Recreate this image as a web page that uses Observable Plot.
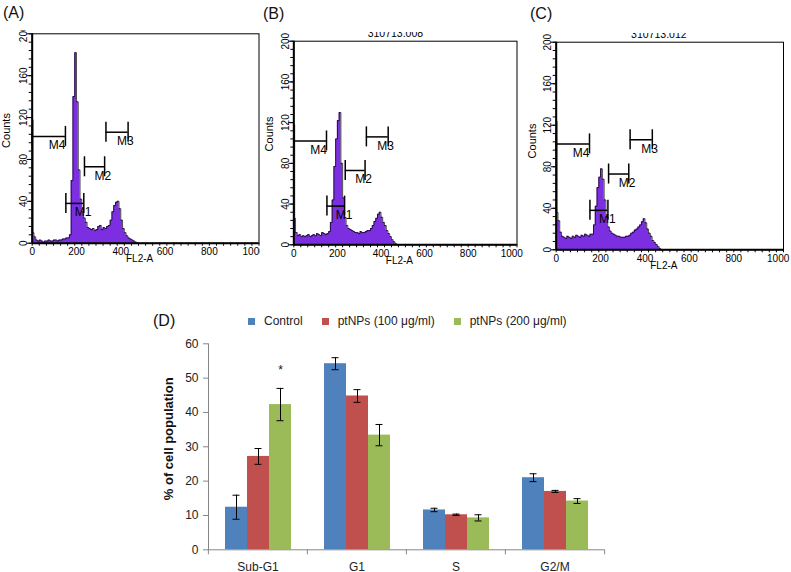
<!DOCTYPE html>
<html><head><meta charset="utf-8">
<script src="https://cdn.jsdelivr.net/npm/d3@7"></script>
<script src="https://cdn.jsdelivr.net/npm/@observablehq/plot@0.6"></script>
<style>
body{margin:0;background:#fff;font-family:"Liberation Sans",Arial,Helvetica,sans-serif;}
#root{position:relative;width:791px;height:572px;overflow:hidden;background:#fff;}
.panel{position:absolute;overflow:hidden;}
.tag{position:absolute;font-size:16px;line-height:16px;color:#111;}
.legend{position:absolute;display:flex;align-items:center;font-size:12px;line-height:12px;color:#222;white-space:nowrap;}
.legend .sw{display:inline-block;width:7px;height:7px;margin-right:9px;}
.legend .item{display:flex;align-items:center;margin-right:19px;}
</style></head><body><div id="root"></div><script>
// ---------- Histogram data (FL2-A channel vs counts) ----------
const channels = [0,4,8,16,24,32,40,48,56,64,72,80,88,96,104,112,120,128,136,144,152,160,168,176,184,192,200,208,216,224,232,240,248,256,264,272,280,288,296,304,312,320,328,336,344,352,360,368,376,384,392,400,408,416,424,432,440,448,456,464,472,480];
const countsA = [118,10,6,3,2,3,2,1,2,2,3,2,2,3,3,2,3,3,4,4,5,5,8,60,140,182,135,70,42,30,24,20,15,14,13,14,12,13,16,17,13,15,14,16,17,22,30,36,39,40,33,22,14,10,7,5,4,3,2,1,0,0];
const countsB = [118,26,12,9,10,8,9,8,9,10,8,9,10,9,11,10,9,12,11,10,11,13,22,44,77,104,122,130,80,46,27,19,16,15,14,13,12,12,11,13,12,12,13,14,14,16,19,23,26,30,32,27,22,19,14,11,8,5,3,1,0,0];
const countsC = [124,36,28,17,13,12,11,13,12,11,13,12,14,13,12,14,13,15,14,13,15,15,24,42,60,70,78,68,48,32,22,18,16,15,14,13,13,12,12,12,13,13,14,16,17,19,20,22,24,27,30,26,20,16,13,9,7,5,3,1,0,0];
const panelTags = ["(A)", "(B)", "(C)"];
const panelTitles = ["", "310713.008", "310713.012"];
const markerNames = ["M1", "M2", "M3", "M4"];
const markerStart = [152, 236, 333, 0];
const markerEnd = [233, 327, 433, 150];
const markerLevel = [38, 73, 106, 102];
const xLabelTicks = [0, 200, 400, 600, 800, 1000];
const xMinorTicks = [0,32,64,96,128,160,192,224,256,288,320,352,384,416,448,480,512,544,576,608,640,672,704,736,768,800,832,864,896,928,960,992,1024];
const yLabelTicks = [0, 40, 80, 120, 160, 200];
const yMinorTicks = [0,8,16,24,32,40,48,56,64,72,80,88,96,104,112,120,128,136,144,152,160,168,176,184,192,200];
const histXLabel = "FL2-A";
const histYLabel = "Counts";

// ---------- Bar chart data (D) ----------
const phases = ["Sub-G1", "G1", "S", "G2/M"];
const treatments = ["Control", "ptNPs (100 μg/ml)", "ptNPs (200 μg/ml)"];
const meanControl = [12.4, 54.2, 11.6, 21.0];
const mean100 = [27.2, 44.8, 10.2, 17.0];
const mean200 = [42.3, 33.4, 9.3, 14.2];
const errControl = [3.5, 1.75, 0.5, 1.15];
const err100 = [2.3, 1.85, 0.2, 0.3];
const err200 = [4.7, 3.1, 0.9, 0.7];
const signif200 = ["*", "", "", ""];
const yTicksD = [0, 10, 20, 30, 40, 50, 60];
const yLabelD = "% of cell population";
const treatmentColors = ["#4f81bd", "#c0504d", "#9bbb59"];

const FONT = '"Liberation Sans", Arial, Helvetica, sans-serif';
const PURPLE = "#7b2fe0";
const GRAY = "#868686";
const root = document.getElementById("root");

function addTag(text, left, top) {
  const d = document.createElement("div");
  d.className = "tag"; d.textContent = text;
  d.style.left = left + "px"; d.style.top = top + "px";
  root.appendChild(d);
}

function histogram(counts, title, box) {
  const rows = channels.map((c, i) => ({channel: c, count: counts[i]}));
  const gates = markerNames.map((name, i) => ({name, start: markerStart[i], end: markerEnd[i], level: markerLevel[i]}));
  const marks = [
    Plot.areaY(rows, {x: "channel", y: "count", curve: "step-after", fill: PURPLE}),
    Plot.lineY(rows, {x: "channel", y: "count", curve: "step-after", stroke: "#000", strokeWidth: 0.7}),
    Plot.frame({stroke: "#000", strokeWidth: 1}),
    Plot.ruleX([0], {stroke: "#000", strokeWidth: 2}),
    Plot.ruleY([0], {stroke: "#000", strokeWidth: 2}),
    Plot.axisX({ticks: xMinorTicks, tickSize: 3, tickFormat: () => "", label: null}),
    Plot.axisX({ticks: xLabelTicks, tickSize: 0, tickPadding: 5, tickFormat: "d", label: null, fontSize: 10}),
    Plot.axisY({ticks: yMinorTicks, tickSize: 3, tickFormat: () => "", label: null}),
    Plot.axisY({ticks: yLabelTicks, tickSize: 5, tickRotate: -90, tickPadding: 0, tickFormat: "d", label: null, fontSize: 10}),
    Plot.ruleY(gates, {x1: "start", x2: "end", y: "level", stroke: "#000", strokeWidth: 1.5}),
    Plot.ruleX(gates, {x: "start", y1: "level", y2: "level", insetTop: -10, insetBottom: -10, stroke: "#000", strokeWidth: 1.5}),
    Plot.ruleX(gates, {x: "end", y1: "level", y2: "level", insetTop: -10, insetBottom: -10, stroke: "#000", strokeWidth: 1.5}),
    Plot.text(gates, {x: d => (d.start + d.end) / 2, y: "level", text: "name", textAnchor: "start", dy: 9, fontSize: 12, fill: "#000"}),
    Plot.text([histYLabel], {frameAnchor: "left", textAnchor: "middle", rotate: -90, dx: box.countsDx, dy: box.countsDy, fontSize: 11, fill: "#000"}),
    Plot.text([histXLabel], {frameAnchor: "bottom", dy: 19, dx: -6, fontSize: 10, fill: "#000"})
  ];
  if (title) marks.push(Plot.text([title], {frameAnchor: "top", dy: -4, dx: box.titleDx, lineAnchor: "bottom", fontSize: 10.5, fill: "#000"}));
  const svg = Plot.plot({
    width: box.width, height: box.height,
    marginLeft: box.ml, marginRight: box.mr, marginTop: box.mt, marginBottom: box.mb,
    style: {fontFamily: FONT, fontSize: "10px", color: "#000", background: "#fff"},
    x: {domain: [0, 1024]},
    y: {domain: [0, 200]},
    marks
  });
  const div = document.createElement("div");
  div.className = "panel";
  div.style.left = box.left + "px"; div.style.top = box.top + "px";
  div.style.width = box.width + "px"; div.style.height = box.height + "px";
  div.appendChild(svg);
  root.appendChild(div);
}

histogram(countsA, panelTitles[0], {left: 0, top: 30, width: 260, height: 250, ml: 31.7, mr: 1.5, mt: 3.3, mb: 37.3, countsDx: -25.5, countsDy: -8, titleDx: -10});
histogram(countsB, panelTitles[1], {left: 262, top: 32, width: 262, height: 248, ml: 31.3, mr: 7.5, mt: 8.7, mb: 35.7, countsDx: -24, countsDy: -9, titleDx: -10});
histogram(countsC, panelTitles[2], {left: 524, top: 33, width: 267, height: 247, ml: 31.7, mr: 8, mt: 8.7, mb: 30.7, countsDx: -23.5, countsDy: -5, titleDx: -11});
addTag(panelTags[0], 3, 5);
addTag(panelTags[1], 263, 6);
addTag(panelTags[2], 530, 6);

// ---------- Panel D ----------
const means = [meanControl, mean100, mean200];
const errs = [errControl, err100, err200];
const rowsD = [];
phases.forEach((p, i) => treatments.forEach((t, j) => rowsD.push({
  phase: p, treatment: t, mean: means[j][i], err: errs[j][i], flag: j === 2 ? signif200[i] : ""
})));
const facetHalf = (470 - 57 - 16) / phases.length / 2;
const plotD = Plot.plot({
  width: 470, height: 242,
  marginLeft: 57, marginRight: 16, marginTop: 13.3, marginBottom: 22.7,
  style: {fontFamily: FONT, fontSize: "12px", color: "#222", background: "#fff"},
  fx: {domain: phases, padding: 0, label: null},
  x: {domain: treatments, paddingInner: 0, paddingOuter: 0.75, axis: null},
  y: {domain: [0, 60]},
  color: {domain: treatments, range: treatmentColors},
  marks: [
    Plot.barY(rowsD, {fx: "phase", x: "treatment", y: "mean", fill: "treatment"}),
    Plot.ruleX(rowsD, {fx: "phase", x: "treatment", y1: d => d.mean - d.err, y2: d => d.mean + d.err, stroke: "#000", strokeWidth: 1}),
    Plot.tickY(rowsD, {fx: "phase", x: "treatment", y: d => d.mean - d.err, insetLeft: 7.5, insetRight: 7.5, stroke: "#000", strokeWidth: 1}),
    Plot.tickY(rowsD, {fx: "phase", x: "treatment", y: d => d.mean + d.err, insetLeft: 7.5, insetRight: 7.5, stroke: "#000", strokeWidth: 1}),
    Plot.text(rowsD.filter(d => d.flag), {fx: "phase", x: "treatment", y: d => d.mean + d.err, text: "flag", dy: -18, fontSize: 12, fill: "#111"}),
    Plot.ruleY([0], {stroke: GRAY, strokeWidth: 1}),
    Plot.frame({anchor: "left", facetAnchor: "left", stroke: GRAY}),
    Plot.axisY({ticks: yTicksD, tickSize: 5, tickPadding: 5, stroke: GRAY, fill: "#222", label: null, fontSize: 12}),
    Plot.axisFx({anchor: "bottom", tickSize: 0, tickPadding: 13, label: null, fontSize: 12, fill: "#222"}),
    Plot.axisFx({anchor: "bottom", tickSize: 5, stroke: GRAY, tickFormat: () => "", label: null, dx: -facetHalf}),
    Plot.axisFx({anchor: "bottom", ticks: [phases[phases.length - 1]], tickSize: 5, stroke: GRAY, tickFormat: () => "", label: null, dx: facetHalf}),
    Plot.text([yLabelD], {fx: () => phases[0], frameAnchor: "left", textAnchor: "middle", rotate: -90, dx: -40, dy: -8, fontWeight: "bold", fontSize: 13, fill: "#111"})
  ]
});
const divD = document.createElement("div");
divD.className = "panel";
divD.style.left = "150px"; divD.style.top = "330px";
divD.style.width = "470px"; divD.style.height = "242px";
divD.appendChild(plotD);
root.appendChild(divD);
addTag("(D)", 153, 313);

// legend
const colorScale = plotD.scale("color");
const legend = document.createElement("div");
legend.className = "legend";
legend.style.left = "248px"; legend.style.top = "315px";
treatments.forEach(t => {
  const item = document.createElement("span"); item.className = "item";
  const sw = document.createElement("span"); sw.className = "sw";
  sw.style.background = colorScale.apply(t);
  const lab = document.createElement("span"); lab.textContent = t;
  item.appendChild(sw); item.appendChild(lab); legend.appendChild(item);
});
root.appendChild(legend);
</script></body></html>
